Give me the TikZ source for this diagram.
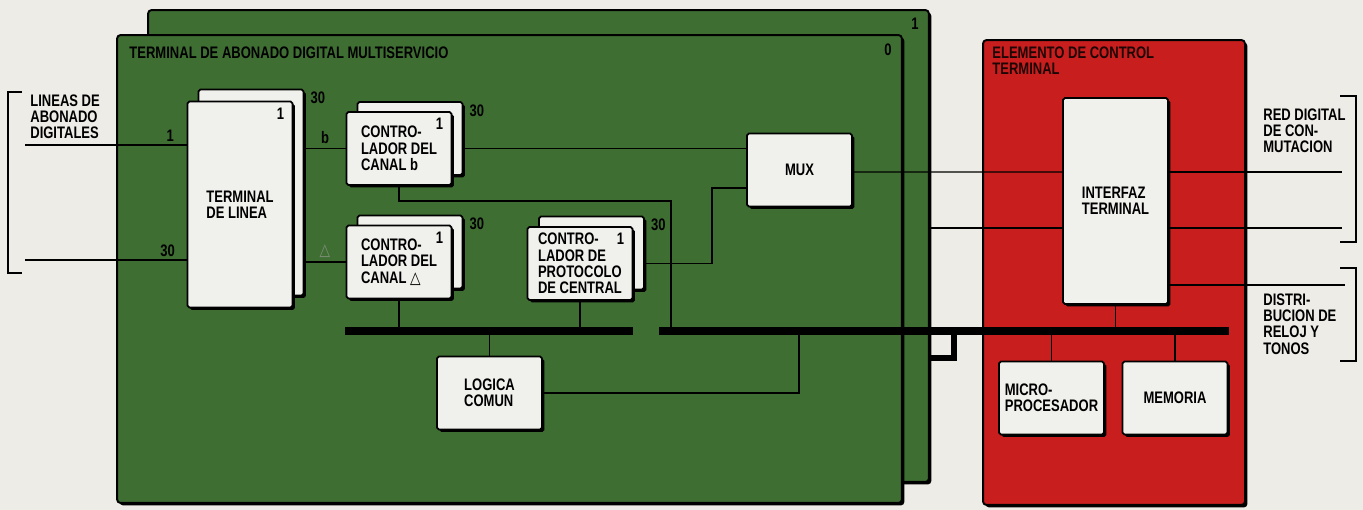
\documentclass[tikz,border=0pt]{standalone}
\usepackage{fontspec}
\setmainfont{Liberation Sans}[FakeStretch=0.78]
\newfontfamily\symfont{DejaVu Sans}[FakeStretch=0.82]
\usetikzlibrary{positioning,shadows,calc}
\definecolor{PanelGreen}{HTML}{3F6E33}
\definecolor{PanelRed}{HTML}{C81F1E}
\definecolor{PagePaper}{HTML}{EDECE7}
\definecolor{BoxWhite}{HTML}{F0F0EC}
\newcommand\diagfont{\fontsize{9.5}{9.3}\selectfont\bfseries}

\begin{document}
\begin{tikzpicture}[x=0.02cm, y=-0.02cm,
  panel/.style={draw=black, line width=1.1pt, rounded corners=2pt, inner sep=0pt,
                drop shadow={shadow xshift=1.4pt, shadow yshift=-1.4pt,
                             fill=black, opacity=1}},
  blockbox/.style={draw=black, line width=1pt, fill=BoxWhite, rounded corners=1pt,
                   minimum width=2.1cm, minimum height=1.46cm, inner sep=2pt,
                   align=left, font=\diagfont,
                   drop shadow={shadow xshift=1.3pt, shadow yshift=-1.3pt,
                                fill=black, opacity=1}},
  tallbox/.style={blockbox, minimum height=4.12cm},
  wire/.style={line width=0.8pt},
  bus/.style={line width=4.6pt},
  num/.style={font=\diagfont, inner sep=0pt},
  sidetext/.style={font=\diagfont, align=left, inner sep=0pt, anchor=north west}
]
\useasboundingbox[fill=PagePaper] (0,0) rectangle (1363,510);

% panels
\node[panel, fill=PanelGreen, minimum width=15.62cm, minimum height=9.44cm] (rack1) at (538.5,246) {};
\node[panel, fill=PanelGreen, minimum width=15.7cm, minimum height=9.36cm] (rack0) at (509.5,269) {};
\node[panel, fill=PanelRed, minimum width=5.24cm, minimum height=9.3cm] (ctrl) at (1114,272.5) {};

\node[num, anchor=north east] (rack1num) at ([xshift=-0.22cm, yshift=-0.18cm]rack1.north east) {1};
\node[num, anchor=north east] (rack0num) at ([xshift=-0.22cm, yshift=-0.18cm]rack0.north east) {0};
\node[sidetext] (rack0title) at ([xshift=0.26cm, yshift=-0.24cm]rack0.north west)
  {TERMINAL DE ABONADO DIGITAL MULTISERVICIO};
\node[sidetext, text=black!85!PanelRed] (ctrltitle) at ([xshift=0.2cm, yshift=-0.14cm]ctrl.north west)
  {ELEMENTO DE CONTROL\\TERMINAL};

% boxes of the subscriber terminal
\node[tallbox] (linebk) at (251,192.5) {};
\node[tallbox] (line) at (240,204.5) {TERMINAL\\DE LINEA};
\node[blockbox] (chbbk) at (410,138.5) {};
\node[blockbox] (chb) at (399,148.5) {CONTRO-\\LADOR DEL\\CANAL b};
\node[blockbox] (chdbk) at (410,252) {};
\node[blockbox] (chd) at (399,262) {CONTRO-\\LADOR DEL\\CANAL {\symfont △}};
\node[blockbox] (protbk) at (591.5,253) {};
\node[blockbox] (prot) at (580,263.5) {CONTRO-\\LADOR DE\\PROTOCOLO\\DE CENTRAL};
\node[blockbox] (mux) at (799.5,170) {MUX};
\node[blockbox] (logic) at (489.5,393) {LOGICA\\COMUN};

% boxes of the control element
\node[tallbox] (iface) at (1115.5,201) {INTERFAZ\\TERMINAL};
\node[blockbox] (cpu) at (1051.5,398) {MICRO-\\PROCESADOR};
\node[blockbox] (mem) at (1175,398) {MEMORIA};

% copy counts
\foreach \b in {linebk,chbbk,chdbk,protbk}
  \node[num, anchor=north west] (\b30) at ([xshift=0.12cm, yshift=-0.06cm]\b.north east) {30};
\foreach \b in {line,chb,chd,prot}
  \node[num, anchor=north east] (\b1) at ([xshift=-0.18cm, yshift=-0.14cm]\b.north east) {1};

% bus
\coordinate (busa) at (345,331);
\coordinate (busb) at (633,331);
\coordinate (busc) at (659,331);
\coordinate (busd) at (1229,331);
\coordinate (tapchb) at (671,331);
\coordinate (taplogic) at (799,331);
\coordinate (rack1bus) at (929,358);

% subscriber lines
\coordinate (subin1) at (25,145);
\coordinate (subin30) at (25,260);
\draw[wire] (subin1) -- (line.west |- subin1)
  node[num, anchor=south east, pos=1, xshift=-0.24cm, yshift=0.06cm] (lab1) {1};
\draw[wire] (subin30) -- (line.west |- subin30)
  node[num, anchor=south east, pos=1, xshift=-0.22cm, yshift=0.06cm] (lab30) {30};
\draw[wire] (chb.west -| linebk.east) -- (chb.west)
  node[num, midway, above=0.08cm] (labb) {b};
\draw[wire] (chd.west -| linebk.east) -- (chd.west)
  node[num, midway, above=0.08cm, text=black!40!PanelGreen!60] (labd) {\symfont △};

\draw[wire] (chb.east -| chbbk.east) -- (mux.west |- chb.east);
\draw[wire] (prot.east -| protbk.east) -- ++(67,0) |- ([yshift=-0.36cm]mux.west);
\draw[wire] (chb.south) -- ++(0,15) -| (tapchb);
\draw[wire] (chd.south) -- (chd.south |- busa);
\draw[wire] (prot.south) -- (prot.south |- busa);
\draw[wire] (logic.north) -- (logic.north |- busa);
\draw[wire] (logic.east) -| (taplogic);

% towards the control element
\coordinate (rack1mux) at (929,228);
\coordinate (netout1) at (1342,172);
\coordinate (netout2) at (1342,228);
\coordinate (clkout) at (1345,285);
\draw[wire] ([yshift=-0.04cm]mux.east) -- (iface.west |- netout1);
\draw[wire] (rack1mux) -- (iface.west |- rack1mux);
\draw[wire] (iface.east |- netout1) -- (netout1);
\draw[wire] (iface.east |- netout2) -- (netout2);
\draw[wire] (iface.east |- clkout) -- (clkout);
\draw[wire] (iface.south) -- (iface.south |- busd);
\draw[wire] (cpu.north) -- (cpu.north |- busd);
\draw[wire] (mem.north) -- (mem.north |- busd);

\draw[bus] (busa) -- (busb);
\draw[bus] (busc) -- (busd);
\draw[line width=3.4pt] (rack1bus) -- (954,358) -- (954,331);

% brackets
\draw[line width=1pt] (22,92) -| (8,273) -- (22,273);
\draw[line width=1pt] (1340,96) -| (1356,242) -- (1340,242);
\draw[line width=1pt] (1340,268) -| (1356,361) -- (1340,361);
\node[sidetext] (subtext) at (30,94) {LINEAS DE\\ABONADO\\DIGITALES};
\node[sidetext] (nettext) at (1263,108) {RED DIGITAL\\DE CON-\\MUTACION};
\node[sidetext] (clktext) at (1263,293) {DISTRI-\\BUCION DE\\RELOJ Y\\TONOS};
\end{tikzpicture}
\end{document}
